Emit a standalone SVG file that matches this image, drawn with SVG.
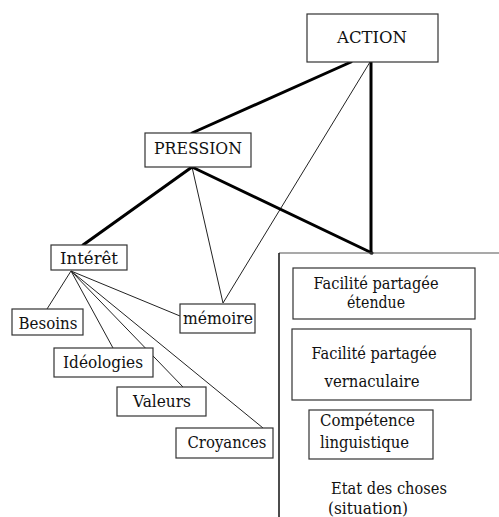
<svg xmlns="http://www.w3.org/2000/svg" width="499" height="517" viewBox="0 0 499 517">
<style>
.box{fill:#fff;stroke:#333;stroke-width:1.2}
.t{font-family:"DejaVu Serif",serif;font-size:17px;fill:#111}
.m{text-anchor:middle}
.thick{stroke:#000;stroke-width:3;fill:none;stroke-linecap:round}
.thin{stroke:#222;stroke-width:1;fill:none}
</style>
<rect width="499" height="517" fill="#fff"/>
<g id="connectors">
<line class="thick" x1="351" y1="62" x2="192" y2="133"/>
<line class="thick" x1="371" y1="62" x2="371" y2="253"/>
<line class="thin" x1="370" y1="62" x2="223" y2="303"/>
<line class="thick" x1="192" y1="167" x2="83" y2="245"/>
<line class="thin" x1="192" y1="167" x2="223" y2="303"/>
<line class="thick" x1="192" y1="167" x2="372" y2="253"/>
<line class="thin" x1="71" y1="271" x2="47" y2="309"/>
<line class="thin" x1="71" y1="271" x2="113" y2="348"/>
<line class="thin" x1="71" y1="271" x2="183" y2="387"/>
<line class="thin" x1="71" y1="271" x2="263" y2="428"/>
<line class="thin" x1="71" y1="271" x2="180" y2="316"/>
</g>
<g id="action"><rect class="box" x="307" y="14" width="131" height="48"/><text class="t m" x="372" y="43" textLength="70" lengthAdjust="spacingAndGlyphs">ACTION</text></g>
<g id="pression"><rect class="box" x="145" y="133" width="106" height="34"/><text class="t m" x="198" y="154" textLength="88" lengthAdjust="spacingAndGlyphs">PRESSION</text></g>
<g id="interet"><rect class="box" x="51" y="245" width="76" height="25"/><text class="t m" x="89" y="264" textLength="58" lengthAdjust="spacingAndGlyphs">Intérêt</text></g>
<g id="memoire"><rect class="box" x="180" y="304" width="75" height="29"/><text class="t m" x="218" y="324" textLength="70" lengthAdjust="spacingAndGlyphs">mémoire</text></g>
<g id="besoins"><rect class="box" x="12" y="309" width="71" height="26"/><text class="t m" x="48" y="329" textLength="59" lengthAdjust="spacingAndGlyphs">Besoins</text></g>
<g id="ideologies"><rect class="box" x="54" y="348" width="99" height="29"/><text class="t m" x="103" y="368" textLength="80" lengthAdjust="spacingAndGlyphs">Idéologies</text></g>
<g id="valeurs"><rect class="box" x="117" y="387" width="89" height="29"/><text class="t m" x="162" y="407" textLength="58" lengthAdjust="spacingAndGlyphs">Valeurs</text></g>
<g id="croyances"><rect class="box" x="176" y="428" width="97" height="30"/><text class="t m" x="227" y="448" textLength="79" lengthAdjust="spacingAndGlyphs">Croyances</text></g>
<g id="panel">
<line x1="279" y1="253" x2="499" y2="253" stroke="#555" stroke-width="1.2"/>
<line x1="279" y1="253" x2="279" y2="517" stroke="#111" stroke-width="1.5"/>
</g>
<g id="facilite-etendue"><rect class="box" x="293" y="268" width="182" height="51"/><text class="t m" x="376" y="289" textLength="125" lengthAdjust="spacingAndGlyphs">Facilité partagée</text><text class="t m" x="376" y="308" textLength="58" lengthAdjust="spacingAndGlyphs">étendue</text></g>
<g id="facilite-vernaculaire"><rect class="box" x="292" y="329" width="179" height="71"/><text class="t m" x="374" y="359" textLength="125" lengthAdjust="spacingAndGlyphs">Facilité partagée</text><text class="t m" x="372" y="387" textLength="95" lengthAdjust="spacingAndGlyphs">vernaculaire</text></g>
<g id="competence"><rect class="box" x="309" y="410" width="124" height="49"/><text class="t" x="320" y="426" textLength="95" lengthAdjust="spacingAndGlyphs">Compétence</text><text class="t" x="320" y="448" textLength="89" lengthAdjust="spacingAndGlyphs">linguistique</text></g>
<g id="etat"><text class="t" x="331" y="494" textLength="116" lengthAdjust="spacingAndGlyphs">Etat des choses</text><text class="t" x="328" y="514" textLength="80" lengthAdjust="spacingAndGlyphs">(situation)</text></g>
</svg>
